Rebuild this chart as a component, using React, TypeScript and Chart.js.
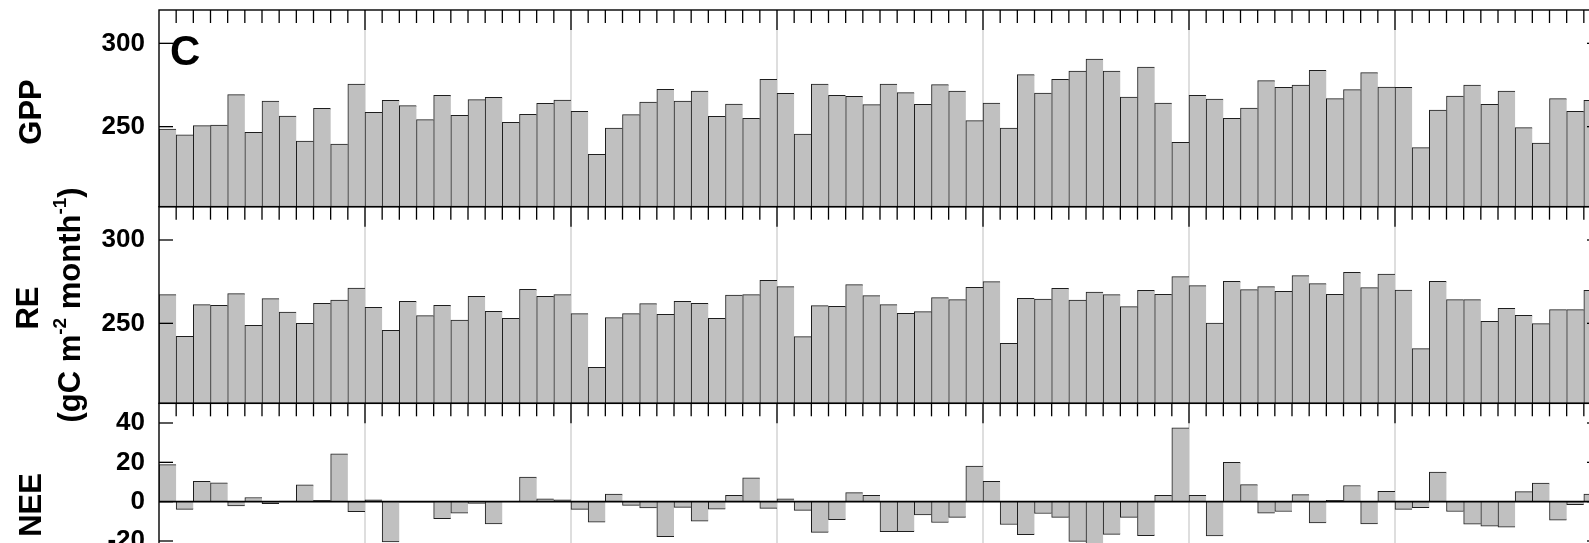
import React, { useEffect, useRef } from 'react';
import { Chart, registerables } from 'chart.js';

Chart.register(...registerables);

// ---------- data ----------
const years = ['Y1', 'Y2', 'Y3', 'Y4', 'Y5', 'Y6', 'Y7'];
const months = ['Jan', 'Feb', 'Mar', 'Apr', 'May', 'Jun', 'Jul', 'Aug', 'Sep', 'Oct', 'Nov', 'Dec'];
const labels: string[] = [];
years.forEach((y) => months.forEach((m) => labels.push(`${y}-${m}`)));

const gpp = [
  248.6, 245.1, 250.6, 251.0, 269.2, 246.6, 265.4, 256.4, 241.4, 261.0, 239.6, 275.6,
  258.6, 265.8, 262.6, 254.2, 268.8, 256.8, 266.2, 267.6, 252.6, 257.4, 264.0, 266.0,
  259.2, 233.4, 249.2, 257.2, 264.8, 272.4, 265.4, 271.4, 256.2, 263.6, 255.0, 278.4,
  270.0, 245.6, 275.6, 268.8, 268.2, 263.2, 275.6, 270.4, 263.4, 275.2, 271.4, 253.6,
  264.2, 249.2, 281.2, 270.2, 278.4, 283.4, 290.6, 283.4, 267.8, 285.8, 264.2, 240.6,
  268.8, 266.6, 255.0, 261.2, 277.6, 273.6, 275.0, 283.8, 266.8, 272.2, 282.4, 273.8,
  273.6, 237.4, 260.0, 268.4, 275.0, 263.4, 271.4, 249.4, 240.2, 266.8, 259.2, 265.8,
];

const re = [
  267.2, 242.2, 261.2, 260.8, 267.8, 248.8, 264.8, 256.8, 250.0, 262.0, 264.0, 271.2,
  259.6, 245.8, 263.2, 254.6, 260.8, 252.0, 266.2, 257.2, 253.0, 270.4, 266.2, 267.2,
  255.8, 223.6, 253.4, 255.8, 261.8, 255.4, 263.2, 262.0, 253.0, 267.0, 267.2, 275.8,
  272.0, 242.0, 260.6, 260.2, 273.2, 266.6, 261.2, 256.0, 257.0, 265.4, 264.2, 271.6,
  275.0, 238.0, 265.0, 264.6, 271.0, 264.0, 268.8, 267.2, 260.0, 269.8, 267.4, 278.0,
  272.6, 250.2, 275.2, 270.2, 272.0, 269.2, 278.6, 273.8, 267.4, 280.6, 271.4, 279.6,
  270.0, 234.8, 275.2, 264.2, 264.2, 251.2, 259.0, 254.8, 249.8, 258.2, 258.2, 269.8,
];

const nee = [
  18.8, -3.9, 10.3, 9.6, -2.1, 2.1, -1.0, 0.3, 8.5, 0.7, 24.3, -5.1,
  0.9, -20.5, -0.3, -0.2, -8.7, -5.8, -0.9, -11.3, 0.2, 12.5, 1.5, 0.9,
  -3.9, -10.4, 3.8, -1.9, -3.2, -17.8, -2.9, -9.9, -3.8, 3.2, 12.1, -3.4,
  1.5, -4.4, -15.6, -9.2, 4.6, 3.2, -15.2, -15.2, -6.8, -10.6, -8.0, 18.1,
  10.3, -11.6, -16.8, -6.0, -8.0, -20.2, -22.0, -16.6, -8.0, -17.3, 3.2, 37.6,
  3.2, -17.4, 20.0, 8.7, -5.8, -5.0, 3.6, -10.8, 0.7, 8.2, -11.3, 5.3,
  -3.9, -3.1, 15.0, -5.0, -11.5, -12.5, -13.0, 5.1, 9.4, -9.4, -1.5, 3.9,
];

const gppTicks = [250, 300];
const reTicks = [250, 300];
const neeTicks = [-40, -20, 0, 20, 40];

// ---------- layout ----------
const W = 1620;
const H = 620;
const AREA_LEFT = 159;
const AREA_RIGHT = 1601;
const AREA_TOP = 10;
const AREA_BOTTOM = 600;
const FONT = '"Liberation Sans", Arial, Helvetica, sans-serif';
const PANELS = ['yG', 'yR', 'yN'];

const yScale = (min: number, max: number, ticks: number[]) => ({
  type: 'linear',
  position: 'left',
  stack: 'panels',
  stackWeight: 1,
  min,
  max,
  grid: { display: false, drawTicks: false },
  border: { display: false },
  ticks: {
    color: '#000',
    padding: 14,
    autoSkip: false,
    font: { family: FONT, size: 26, weight: 'bold' },
  },
  afterBuildTicks: (s: any) => {
    s.ticks = ticks.map((v) => ({ value: v }));
  },
  afterFit: (s: any) => {
    s.width = AREA_LEFT;
    s.paddingTop = 0;
    s.paddingBottom = 0;
  },
});

const line = (ctx: CanvasRenderingContext2D, x1: number, y1: number, x2: number, y2: number) => {
  ctx.beginPath();
  ctx.moveTo(x1, y1);
  ctx.lineTo(x2, y2);
  ctx.stroke();
};

const panelPlugin = {
  id: 'panels',
  beforeDatasetsDraw(chart: any) {
    const { ctx } = chart;
    const xs = chart.scales.x;
    const n = labels.length;
    const half = (xs.getPixelForValue(1) - xs.getPixelForValue(0)) / 2;
    ctx.save();
    ctx.strokeStyle = '#c8c8c8';
    ctx.lineWidth = 1.2;
    for (const id of PANELS) {
      const s = chart.scales[id];
      for (let k = 12; k < n; k += 12) {
        const px = xs.getPixelForValue(k) - half;
        line(ctx, px, s.top, px, s.bottom);
      }
    }
    ctx.restore();
  },
  afterDatasetsDraw(chart: any) {
    const { ctx, chartArea } = chart;
    const xs = chart.scales.x;
    const n = labels.length;
    const half = (xs.getPixelForValue(1) - xs.getPixelForValue(0)) / 2;
    const { left, right } = chartArea;
    ctx.save();
    ctx.strokeStyle = '#000';

    // zero line of NEE
    const yN = chart.scales.yN;
    const z = yN.getPixelForValue(0);
    ctx.lineWidth = 1.6;
    line(ctx, left, z, right, z);

    for (const id of PANELS) {
      const s = chart.scales[id];
      ctx.lineWidth = 1.4;
      ctx.strokeRect(left, s.top, right - left, s.bottom - s.top);
      ctx.lineWidth = 1.3;
      for (let k = 1; k < n; k++) {
        const px = xs.getPixelForValue(k) - half;
        const len = k % 12 === 0 ? 20 : 13;
        line(ctx, px, s.top, px, s.top + len);
      }
      for (const t of s.ticks) {
        const py = s.getPixelForValue(t.value);
        line(ctx, left, py, left + 14, py);
        line(ctx, right, py, right - 14, py);
      }
    }

    // panel letter
    ctx.fillStyle = '#000';
    ctx.font = `bold 42px ${FONT}`;
    ctx.textAlign = 'left';
    ctx.textBaseline = 'alphabetic';
    ctx.fillText('C', left + 11, chart.scales.yG.top + 55);
    ctx.restore();
  },
  afterDraw(chart: any) {
    const { ctx } = chart;
    const main = `bold 31px ${FONT}`;
    const sup = `bold 19px ${FONT}`;
    const rot = (text: string, x: number, y: number) => {
      ctx.save();
      ctx.translate(x, y);
      ctx.rotate(-Math.PI / 2);
      ctx.font = main;
      ctx.fillStyle = '#000';
      ctx.textAlign = 'center';
      ctx.textBaseline = 'alphabetic';
      ctx.fillText(text, 0, 0);
      ctx.restore();
    };
    rot('GPP', 41, 112);
    rot('RE', 38, 308);
    rot('NEE', 41, 505);

    const parts = [
      { t: '(gC m', s: false },
      { t: '-2', s: true },
      { t: ' month', s: false },
      { t: '-1', s: true },
      { t: ')', s: false },
    ];
    ctx.save();
    ctx.translate(80, 305);
    ctx.rotate(-Math.PI / 2);
    ctx.fillStyle = '#000';
    ctx.textAlign = 'left';
    ctx.textBaseline = 'alphabetic';
    let total = 0;
    for (const p of parts) {
      ctx.font = p.s ? sup : main;
      total += ctx.measureText(p.t).width;
    }
    let x = -total / 2;
    for (const p of parts) {
      ctx.font = p.s ? sup : main;
      ctx.fillText(p.t, x, p.s ? -14 : 0);
      x += ctx.measureText(p.t).width;
    }
    ctx.restore();
  },
};

const barStyle = {
  backgroundColor: '#c0c0c0',
  borderColor: '#1e1e1e',
  borderWidth: { top: 1, left: 1, right: 0, bottom: 1 },
  borderSkipped: 'start',
  grouped: false,
  categoryPercentage: 1,
  barPercentage: 1,
};

export default function App() {
  const ref = useRef<HTMLCanvasElement | null>(null);

  useEffect(() => {
    if (!ref.current) return;
    const chart = new Chart(ref.current, {
      type: 'bar',
      data: {
        labels,
        datasets: [
          { label: 'GPP', data: gpp, yAxisID: 'yG', xAxisID: 'x', ...barStyle },
          { label: 'RE', data: re, yAxisID: 'yR', xAxisID: 'x', ...barStyle },
          { label: 'NEE', data: nee, yAxisID: 'yN', xAxisID: 'x', ...barStyle },
        ] as any,
      },
      options: {
        responsive: false,
        maintainAspectRatio: false,
        animation: false,
        devicePixelRatio: 1,
        layout: {
          padding: { left: 0, top: AREA_TOP, right: W - AREA_RIGHT, bottom: H - AREA_BOTTOM },
        },
        plugins: {
          legend: { display: false },
          tooltip: { enabled: false },
          title: { display: false },
        },
        scales: {
          x: { type: 'category', display: false, offset: true },
          yN: yScale(-50, 50, neeTicks),
          yR: yScale(202, 320, reTicks),
          yG: yScale(202, 320, gppTicks),
        } as any,
      },
      plugins: [panelPlugin as any],
    });
    return () => chart.destroy();
  }, []);

  return (
    <div
      style={{
        position: 'fixed',
        left: 0,
        top: 0,
        width: 1589,
        height: 543,
        overflow: 'hidden',
        background: '#fff',
      }}
    >
      <canvas ref={ref} width={W} height={H} style={{ display: 'block', width: W, height: H }} />
    </div>
  );
}
